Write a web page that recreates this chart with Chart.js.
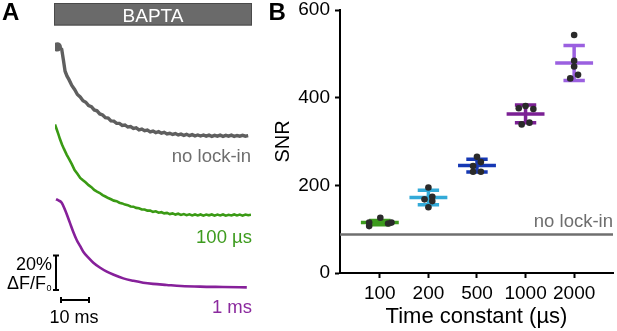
<!DOCTYPE html>
<html lang="en">
<head>
<meta charset="UTF-8">
<title>Lock-in SNR</title>
<script src="https://cdn.jsdelivr.net/npm/chart.js"></script>
<style>
  body { margin: 0; background: #fff; }
  #wrap { position: relative; width: 617px; height: 331px; }
  #traces { position: absolute; left: 0; top: 0; }
  #snr { position: absolute; left: 265px; top: 0; }
</style>
</head>
<body>
<div id="wrap">
  <canvas id="traces" width="270" height="331"></canvas>
  <canvas id="snr" width="352" height="331"></canvas>
</div>
<script>
// ---- panel A: dF/F0 (%) above each trace's own baseline vs time (ms)
const grayT = [0.8, 1.6, 2.4, 3.0, 3.6, 4.3, 5, 6, 7, 8, 9, 10, 11, 12, 13, 14, 15, 16, 17, 18, 19, 20,
  21, 22, 23, 24, 25, 26, 27, 28, 29, 30, 31, 32, 33, 34, 35, 36, 37, 38, 39, 40, 41, 42, 43, 44, 45,
  46, 47, 48, 49, 50, 51, 52, 53, 54, 55, 56, 57, 58, 59, 60, 61, 62, 63, 64, 65, 66, 67, 68, 69];
const grayV = [51.6, 51.3, 50.2, 44.0, 37.5, 34.6, 32.6, 29.2, 26.9, 24.0, 22.6, 20.4, 19.5, 17.5, 16.9,
  15.0, 14.5, 12.7, 12.1, 10.5, 10.3, 8.7, 8.5, 7.2, 7.2, 6.0, 6.3, 5.1, 5.4, 4.3, 4.6, 3.5, 3.9, 3.0,
  3.3, 2.3, 2.8, 1.9, 2.4, 1.5, 2.0, 1.1, 1.5, 0.8, 1.3, 0.5, 1.0, 0.3, 0.9, 0.1, 0.7, 0.0, 0.5, -0.1,
  0.5, -0.2, 0.4, -0.3, 0.3, -0.2, 0.4, -0.3, 0.3, -0.2, 0.4, -0.3, 0.2, -0.2, 0.3, -0.2, 0.1];

const greenT = [0, 0.6, 1.2, 1.8, 2.5, 3.2, 4.2, 5, 6, 7, 8, 9, 10, 11, 12, 13, 14, 15, 16, 17, 18, 19,
  20, 21, 22, 23, 24, 25, 26, 27, 28, 29, 30, 31, 32, 33, 34, 35, 36, 37, 38, 39, 40, 41, 42, 43, 44,
  45, 46, 47, 48, 49, 50, 51, 52, 53, 54, 55, 56, 57, 58, 59, 60, 61, 62, 63, 64, 65, 66, 67, 68, 69, 70];
const greenV = [52.6, 49.8, 47.0, 44.0, 41.0, 38.4, 35.0, 32.6, 29.6, 26.2, 24.0, 21.6, 20.2, 18.9, 17.4,
  16.2, 14.6, 13.6, 12.8, 11.6, 10.8, 9.9, 9.2, 8.4, 8.1, 7.2, 6.8, 6.1, 5.8, 5.0, 4.9, 4.2, 4.0, 3.3,
  3.3, 2.6, 2.7, 1.9, 2.2, 1.4, 1.7, 1.0, 1.3, 0.6, 1.0, 0.3, 0.8, 0.1, 0.6, 0.0, 0.5, -0.2, 0.4, -0.2,
  0.4, -0.3, 0.3, -0.1, 0.4, -0.3, 0.3, -0.2, 0.4, -0.3, 0.2, -0.2, 0.4, -0.2, 0.3, -0.3, 0.3, -0.1, 0.2];

const purpleT = [0.36, 1.2, 2.4, 3.6, 4.5, 5.4, 6.5, 7.75, 9, 10.1, 12, 13.7, 16, 18.5, 21, 24.4, 28,
  31.5, 35, 39.9, 45, 51.8, 60, 68.5];
const purpleV = [51.2, 50.6, 49.2, 45.0, 41.2, 37.2, 32.4, 27.6, 24.0, 20.8, 17.2, 14.4, 11.6, 9.2, 7.4,
  5.3, 3.9, 2.8, 2.1, 1.5, 0.9, 0.5, 0.3, 0.1];

// scale bars
const barMs = 10;
const barPct = 20;

// ---- panel B: SNR per lock-in time constant
const timeConstants = ['100', '200', '500', '1000', '2000'];
const snrMean = [115, 172, 245, 363, 479];
const snrSd = [5, 16.5, 14.5, 20, 40];
const snrPoints = [
  [107, 115, 126, 113, 115],
  [195, 168, 174, 164, 150],
  [265, 253, 244, 231, 231],
  [376, 381, 374, 339, 343],
  [543, 484, 471, 452, 444]
];
const noLockIn = 88;

// layout stuff (not data)
const FONT = "'Liberation Sans', Arial, sans-serif";
Chart.defaults.font.family = FONT;
const traceOffset = { gray: 88, green: 42, purple: 0 };
const jitter = [
  [-0.22, -0.22, 0.01, 0.17, 0.24],
  [0, -0.08, 0.08, 0.08, 0],
  [0, 0.08, -0.08, -0.08, 0.08],
  [-0.14, 0, 0.16, -0.08, 0.08],
  [0, 0, 0, 0.08, -0.08]
];
const colors = ['#3d9b1e', '#33aad8', '#1638b4', '#7b2094', '#9b60e0'];
const X_MIN = -0.82, X_MAX = 4.8;
const MEAN_HALF = 0.39, CAP_HALF = 0.22;

function trace(ts, vs, off) {
  return ts.map((t, i) => ({ x: t, y: vs[i] + off }));
}

function text(ctx, str, x, y, size, color, align, weight) {
  ctx.save();
  ctx.font = (weight || 'normal') + ' ' + size + 'px ' + FONT;
  ctx.fillStyle = color;
  ctx.textAlign = align || 'left';
  ctx.textBaseline = 'alphabetic';
  ctx.fillText(str, x, y);
  ctx.restore();
}

const panelA = {
  id: 'panelA',
  afterDraw(chart) {
    const ctx = chart.ctx;
    const xs = chart.scales.x, ys = chart.scales.y;
    text(ctx, 'A', 2, 20, 24, '#000', 'left', 'bold');

    // BAPTA bar
    ctx.save();
    ctx.fillStyle = '#6a6a6a';
    ctx.strokeStyle = '#4a4a4a';
    ctx.lineWidth = 1;
    ctx.fillRect(54, 3, 198, 22.5);
    ctx.strokeRect(54.5, 3.5, 197, 21.5);
    ctx.restore();
    text(ctx, 'BAPTA', 153, 21.7, 19, '#fff', 'center');

    text(ctx, 'no lock-in', 251, 161.7, 18.5, '#6e6e6e', 'right');
    text(ctx, '100 µs', 252, 243.3, 18.5, '#3d9b1e', 'right');
    text(ctx, '1 ms', 252, 313.3, 18.5, '#8b2a9e', 'right');

    // scale bars
    const vx = 56, vBottom = 290;
    const vTop = vBottom - (ys.getPixelForValue(0) - ys.getPixelForValue(barPct));
    const hy = 300, hLeft = 61;
    const hRight = hLeft + (xs.getPixelForValue(barMs) - xs.getPixelForValue(0));
    ctx.save();
    ctx.strokeStyle = '#000';
    ctx.lineWidth = 2;
    ctx.beginPath();
    ctx.moveTo(vx, vTop); ctx.lineTo(vx, vBottom);
    ctx.moveTo(vx - 3, vTop); ctx.lineTo(vx + 3, vTop);
    ctx.moveTo(vx - 3, vBottom); ctx.lineTo(vx + 3, vBottom);
    ctx.moveTo(hLeft, hy); ctx.lineTo(hRight, hy);
    ctx.moveTo(hLeft, hy - 3); ctx.lineTo(hLeft, hy + 3);
    ctx.moveTo(hRight, hy - 3); ctx.lineTo(hRight, hy + 3);
    ctx.stroke();
    ctx.restore();

    text(ctx, '20%', 52, 270, 18, '#000', 'right');
    text(ctx, 'ΔF/F', 46, 289, 18, '#000', 'right');
    text(ctx, '0', 46.5, 291, 9, '#000', 'left');
    text(ctx, '10 ms', 74, 322.5, 18, '#000', 'center');
  }
};

new Chart(document.getElementById('traces'), {
  type: 'scatter',
  data: {
    datasets: [
      {
        data: trace(grayT, grayV, traceOffset.gray),
        showLine: true, borderColor: '#5f5f5f', backgroundColor: '#5f5f5f', borderWidth: 3.4,
        pointRadius: c => (c.dataIndex === 0 ? 3 : 0)
      },
      {
        data: trace(greenT, greenV, traceOffset.green),
        showLine: true, borderColor: '#3a9a14', borderWidth: 2.6, pointRadius: 0
      },
      {
        data: trace(purpleT, purpleV, traceOffset.purple),
        showLine: true, borderColor: '#86209a', borderWidth: 2.6, pointRadius: 0,
        cubicInterpolationMode: 'monotone'
      }
    ]
  },
  options: {
    responsive: false,
    animation: false,
    layout: { padding: { left: 55, right: 19, top: 35, bottom: 26.25 } },
    plugins: { legend: { display: false }, tooltip: { enabled: false } },
    scales: {
      x: { type: 'linear', min: 0, max: 70, display: false },
      y: { min: -10, max: 146.5, display: false }
    }
  },
  plugins: [panelA]
});

// ---- panel B datasets
const pointData = [];
snrPoints.forEach((vals, i) => {
  vals.forEach((v, j) => pointData.push({ x: i + jitter[i][j], y: v }));
});

const errorSets = timeConstants.map((tc, i) => {
  const m = snrMean[i], lo = m - snrSd[i], hi = m + snrSd[i];
  return {
    label: tc + ' µs',
    data: [
      { x: i - MEAN_HALF, y: m }, { x: i + MEAN_HALF, y: m }, { x: i, y: null },
      { x: i - CAP_HALF, y: hi }, { x: i + CAP_HALF, y: hi }, { x: i, y: null },
      { x: i - CAP_HALF, y: lo }, { x: i + CAP_HALF, y: lo }, { x: i, y: null },
      { x: i, y: lo }, { x: i, y: hi }
    ],
    showLine: true, spanGaps: false, borderColor: colors[i], borderWidth: 3.5,
    borderCapStyle: 'butt', pointRadius: 0, order: 1
  };
});

const panelB = {
  id: 'panelB',
  afterDraw(chart) {
    const ctx = chart.ctx;
    text(ctx, 'B', 3.5, 20, 24, '#000', 'left', 'bold');
    const y = chart.scales.y.getPixelForValue(noLockIn) - 7;
    text(ctx, 'no lock-in', 348, y, 18.5, '#6e6e6e', 'right');
  }
};

new Chart(document.getElementById('snr'), {
  type: 'scatter',
  data: {
    datasets: [
      {
        label: 'cells',
        data: pointData,
        pointRadius: 3.3, pointBackgroundColor: '#2a2a2a', pointBorderWidth: 0, order: 0
      },
      ...errorSets,
      {
        label: 'no lock-in',
        data: [{ x: X_MIN, y: noLockIn }, { x: X_MAX, y: noLockIn }],
        showLine: true, borderColor: '#6f6f6f', borderWidth: 2.5, pointRadius: 0, order: 2
      }
    ]
  },
  options: {
    responsive: false,
    animation: false,
    layout: { padding: { left: 0, top: 10, right: 2, bottom: 0 } },
    plugins: { legend: { display: false }, tooltip: { enabled: false } },
    scales: {
      x: {
        type: 'linear', min: X_MIN, max: X_MAX,
        afterBuildTicks: s => { s.ticks = timeConstants.map((_, i) => ({ value: i })); },
        afterFit: s => { s.height = 58; s.paddingLeft = 0; s.paddingRight = 0; },
        ticks: {
          callback: v => timeConstants[v], color: '#000', font: { size: 19 },
          padding: 4, maxRotation: 0, autoSkip: false
        },
        grid: { drawOnChartArea: false, tickLength: 5, tickWidth: 2, tickColor: '#000' },
        border: { color: '#000', width: 2 },
        title: {
          display: true, text: 'Time constant (µs)', color: '#000',
          font: { size: 22 }, padding: { top: 0, bottom: 1 }
        }
      },
      y: {
        min: 0, max: 600,
        afterFit: s => { s.width = 75; s.paddingTop = 0; s.paddingBottom = 0; },
        ticks: { stepSize: 200, color: '#000', font: { size: 19 }, padding: 5 },
        grid: { drawOnChartArea: false, tickLength: 5, tickWidth: 2, tickColor: '#000' },
        border: { color: '#000', width: 2 },
        title: {
          display: true, text: 'SNR', color: '#000',
          font: { size: 20 }, padding: { top: 6.5, bottom: 0 }
        }
      }
    }
  },
  plugins: [panelB]
});
</script>
</body>
</html>
